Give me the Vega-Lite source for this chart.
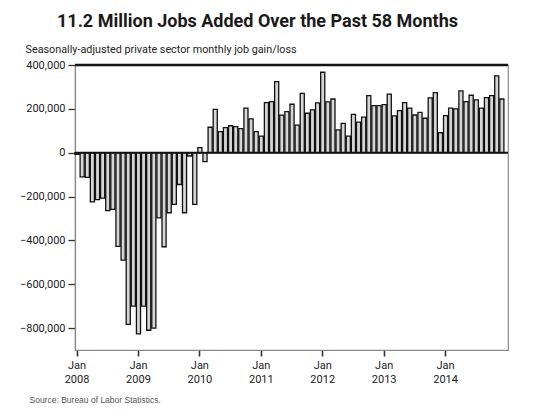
{
  "$schema": "https://vega.github.io/schema/vega-lite/v6.json",
  "autosize": "none",
  "width": 433,
  "height": 285,
  "padding": {"left": 75, "top": 65, "right": 25, "bottom": 70},
  "background": "white",
  "config": {
    "font": "Roboto, Liberation Sans, sans-serif",
    "view": {"stroke": "#8a8a8a", "strokeWidth": 1.2}
  },
  "title": {
    "text": "11.2 Million Jobs Added Over the Past 58 Months",
    "fontSize": 18,
    "fontWeight": "bold",
    "color": "#1a1a1a",
    "anchor": "middle",
    "frame": "group",
    "dx": -34,
    "offset": 12
  },
  "data": {
    "values": [
      {"month": "2008-01", "jobs": -8000}, {"month": "2008-02", "jobs": -110000}, {"month": "2008-03", "jobs": -113000},
      {"month": "2008-04", "jobs": -224000}, {"month": "2008-05", "jobs": -214000}, {"month": "2008-06", "jobs": -207000},
      {"month": "2008-07", "jobs": -264000}, {"month": "2008-08", "jobs": -259000}, {"month": "2008-09", "jobs": -427000},
      {"month": "2008-10", "jobs": -490000}, {"month": "2008-11", "jobs": -783000}, {"month": "2008-12", "jobs": -700000},
      {"month": "2009-01", "jobs": -826000}, {"month": "2009-02", "jobs": -700000}, {"month": "2009-03", "jobs": -810000},
      {"month": "2009-04", "jobs": -800000}, {"month": "2009-05", "jobs": -297000}, {"month": "2009-06", "jobs": -429000},
      {"month": "2009-07", "jobs": -274000}, {"month": "2009-08", "jobs": -236000}, {"month": "2009-09", "jobs": -145000},
      {"month": "2009-10", "jobs": -274000}, {"month": "2009-11", "jobs": -15000}, {"month": "2009-12", "jobs": -236000},
      {"month": "2010-01", "jobs": 23000}, {"month": "2010-02", "jobs": -41000}, {"month": "2010-03", "jobs": 116000},
      {"month": "2010-04", "jobs": 198000}, {"month": "2010-05", "jobs": 96000}, {"month": "2010-06", "jobs": 114000},
      {"month": "2010-07", "jobs": 123000}, {"month": "2010-08", "jobs": 119000}, {"month": "2010-09", "jobs": 110000},
      {"month": "2010-10", "jobs": 203000}, {"month": "2010-11", "jobs": 154000}, {"month": "2010-12", "jobs": 96000},
      {"month": "2011-01", "jobs": 76000}, {"month": "2011-02", "jobs": 228000}, {"month": "2011-03", "jobs": 233000},
      {"month": "2011-04", "jobs": 324000}, {"month": "2011-05", "jobs": 171000}, {"month": "2011-06", "jobs": 187000},
      {"month": "2011-07", "jobs": 221000}, {"month": "2011-08", "jobs": 126000}, {"month": "2011-09", "jobs": 271000},
      {"month": "2011-10", "jobs": 180000}, {"month": "2011-11", "jobs": 195000}, {"month": "2011-12", "jobs": 227000},
      {"month": "2012-01", "jobs": 367000}, {"month": "2012-02", "jobs": 232000}, {"month": "2012-03", "jobs": 245000},
      {"month": "2012-04", "jobs": 104000}, {"month": "2012-05", "jobs": 134000}, {"month": "2012-06", "jobs": 76000},
      {"month": "2012-07", "jobs": 175000}, {"month": "2012-08", "jobs": 139000}, {"month": "2012-09", "jobs": 162000},
      {"month": "2012-10", "jobs": 260000}, {"month": "2012-11", "jobs": 215000}, {"month": "2012-12", "jobs": 215000},
      {"month": "2013-01", "jobs": 219000}, {"month": "2013-02", "jobs": 267000}, {"month": "2013-03", "jobs": 168000},
      {"month": "2013-04", "jobs": 192000}, {"month": "2013-05", "jobs": 228000}, {"month": "2013-06", "jobs": 203000},
      {"month": "2013-07", "jobs": 172000}, {"month": "2013-08", "jobs": 184000}, {"month": "2013-09", "jobs": 157000},
      {"month": "2013-10", "jobs": 250000}, {"month": "2013-11", "jobs": 274000}, {"month": "2013-12", "jobs": 91000},
      {"month": "2014-01", "jobs": 169000}, {"month": "2014-02", "jobs": 203000}, {"month": "2014-03", "jobs": 200000},
      {"month": "2014-04", "jobs": 282000}, {"month": "2014-05", "jobs": 233000}, {"month": "2014-06", "jobs": 262000},
      {"month": "2014-07", "jobs": 241000}, {"month": "2014-08", "jobs": 203000}, {"month": "2014-09", "jobs": 251000},
      {"month": "2014-10", "jobs": 260000}, {"month": "2014-11", "jobs": 350000}, {"month": "2014-12", "jobs": 245000}
    ]
  },
  "layer": [
    {
      "mark": {"type": "bar", "fill": "#d6d6d6", "stroke": "#111", "strokeWidth": 1.3},
      "encoding": {
        "x": {
          "field": "month",
          "type": "ordinal",
          "scale": {"paddingInner": 0.2, "paddingOuter": 0.4, "align": 0},
          "axis": {
            "values": ["2008-01", "2009-01", "2010-01", "2011-01", "2012-01", "2013-01", "2014-01"],
            "labelExpr": "['Jan', slice(datum.value, 0, 4)]",
            "labelAngle": 0,
            "labelFontSize": 11,
            "labelColor": "#222",
            "labelPadding": 3,
            "labelLineHeight": 14,
            "tickColor": "#333",
            "tickWidth": 1.6,
            "tickSize": 6,
            "domainColor": "#8a8a8a",
            "domainWidth": 1.2,
            "title": "Source: Bureau of Labor Statistics.",
            "titleFont": "Liberation Sans, sans-serif",
            "titleFontSize": 8.5,
            "titleFontWeight": "normal",
            "titleColor": "#555",
            "titleAlign": "left",
            "titleBaseline": "alphabetic",
            "titleX": -46,
            "titleY": 52
          }
        },
        "y": {
          "field": "jobs",
          "type": "quantitative",
          "scale": {"domain": [-900000, 400000], "nice": false},
          "axis": {
            "values": [-800000, -600000, -400000, -200000, 0, 200000, 400000],
            "format": ",.0f",
            "grid": false,
            "labelFontSize": 11,
            "labelColor": "#222",
            "labelPadding": 3,
            "tickColor": "#333",
            "tickWidth": 1.3,
            "tickSize": 7,
            "domainColor": "#8a8a8a",
            "domainWidth": 1.2,
            "title": "Seasonally-adjusted private sector monthly job gain/loss",
            "titleAngle": 0,
            "titleAlign": "left",
            "titleBaseline": "alphabetic",
            "titleFontSize": 10.8,
            "titleFontWeight": "normal",
            "titleColor": "#222",
            "titleX": -50,
            "titleY": -13
          }
        }
      }
    },
    {
      "data": {"values": [{}]},
      "mark": {"type": "rule", "color": "#111", "strokeWidth": 2},
      "encoding": {"y": {"datum": 0}}
    },
    {
      "data": {"values": [{}]},
      "mark": {"type": "rule", "color": "#111", "strokeWidth": 2.5},
      "encoding": {"y": {"datum": 400000}}
    }
  ]
}
